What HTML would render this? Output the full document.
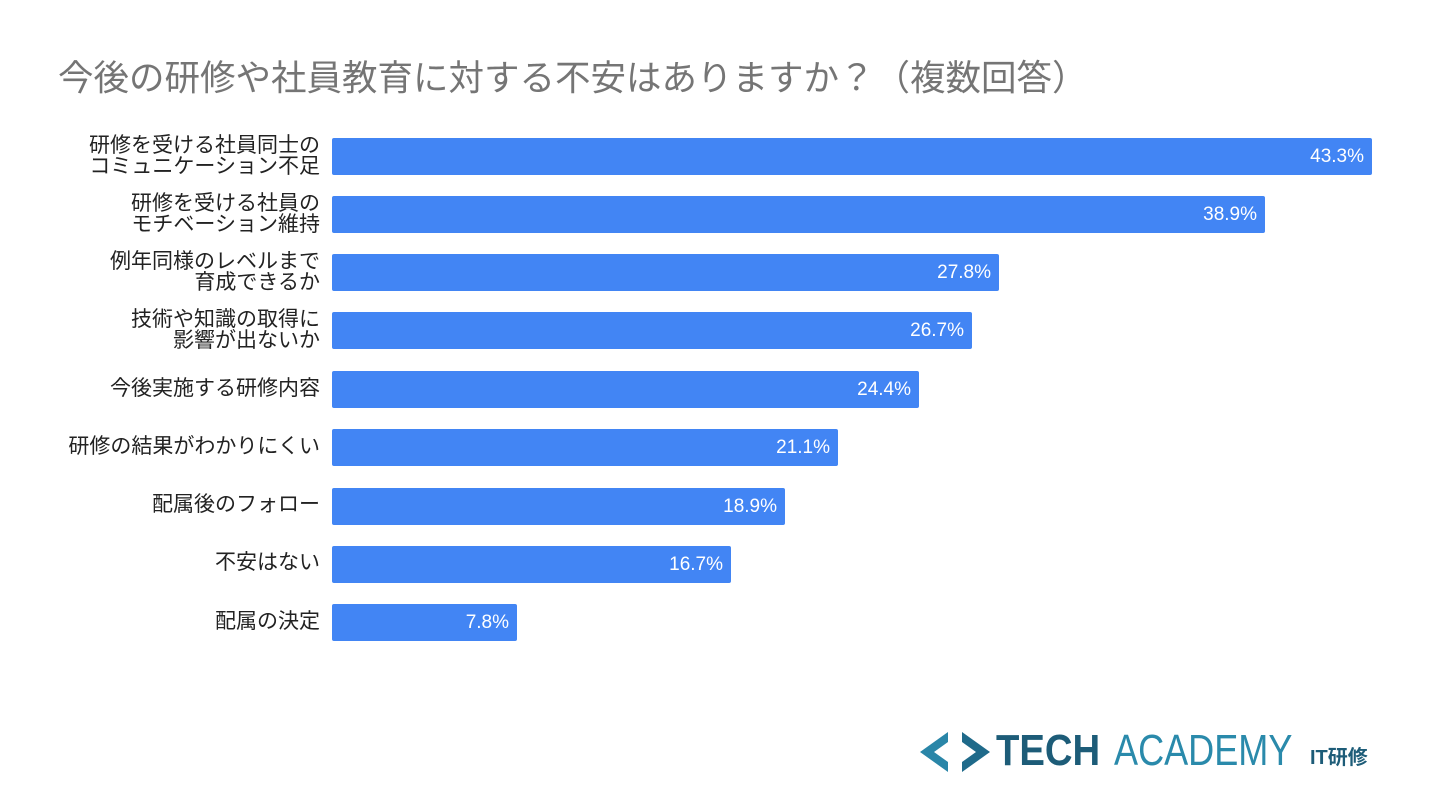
<!DOCTYPE html>
<html><head><meta charset="utf-8"><style>
body{margin:0;width:1440px;height:810px;background:#fff;position:relative;overflow:hidden;font-family:"Liberation Sans","Noto Sans CJK JP",sans-serif}
.t{position:absolute;left:58px;top:50px;font-size:35.5px;color:#757575;white-space:nowrap}
.bar{position:absolute;left:332px;height:37px;background:#4285f4;border-radius:2px}
.v{position:absolute;right:8px;top:0;line-height:37px;color:#fff;font-size:19px}
.l{position:absolute;right:1120px;text-align:right;font-size:21px;color:#222;line-height:21px;white-space:nowrap}
</style></head><body>
<div class="t">今後の研修や社員教育に対する不安はありますか？（複数回答）</div>

<div class="bar" style="top:138px;width:1040px"><span class="v">43.3%</span></div>
<div class="l" style="top:135px">研修を受ける社員同士の<br>コミュニケーション不足</div>
<div class="bar" style="top:196px;width:933px"><span class="v">38.9%</span></div>
<div class="l" style="top:193px">研修を受ける社員の<br>モチベーション維持</div>
<div class="bar" style="top:254px;width:667px"><span class="v">27.8%</span></div>
<div class="l" style="top:251px">例年同様のレベルまで<br>育成できるか</div>
<div class="bar" style="top:312px;width:640px"><span class="v">26.7%</span></div>
<div class="l" style="top:309px">技術や知識の取得に<br>影響が出ないか</div>
<div class="bar" style="top:371px;width:587px"><span class="v">24.4%</span></div>
<div class="l" style="top:378px">今後実施する研修内容</div>
<div class="bar" style="top:429px;width:506px"><span class="v">21.1%</span></div>
<div class="l" style="top:436px">研修の結果がわかりにくい</div>
<div class="bar" style="top:488px;width:453px"><span class="v">18.9%</span></div>
<div class="l" style="top:494px">配属後のフォロー</div>
<div class="bar" style="top:546px;width:399px"><span class="v">16.7%</span></div>
<div class="l" style="top:552px">不安はない</div>
<div class="bar" style="top:604px;width:185px"><span class="v">7.8%</span></div>
<div class="l" style="top:611px">配属の決定</div>

<svg style="position:absolute;left:918px;top:728px" width="75" height="48" viewBox="0 0 75 48">
<polygon points="30,4 2,24 30,44 30,34 16,24 30,14" fill="#2a86a8"/>
<polygon points="44,4 72,24 44,44 44,34 58,24 44,14" fill="#1f6a8a"/>
</svg>
<div style="position:absolute;left:996px;top:726px;font-size:44px;line-height:50px;color:#1d5c78;font-weight:bold;transform:scaleX(0.87);transform-origin:0 0">TECH</div>
<div style="position:absolute;left:1114px;top:726px;font-size:44px;line-height:50px;color:#2a8aab;transform:scaleX(0.82);transform-origin:0 0">ACADEMY</div>
<div style="position:absolute;left:1310px;top:746px;font-size:20px;line-height:24px;color:#1d5c78;font-weight:bold">IT研修</div>
</body></html>
